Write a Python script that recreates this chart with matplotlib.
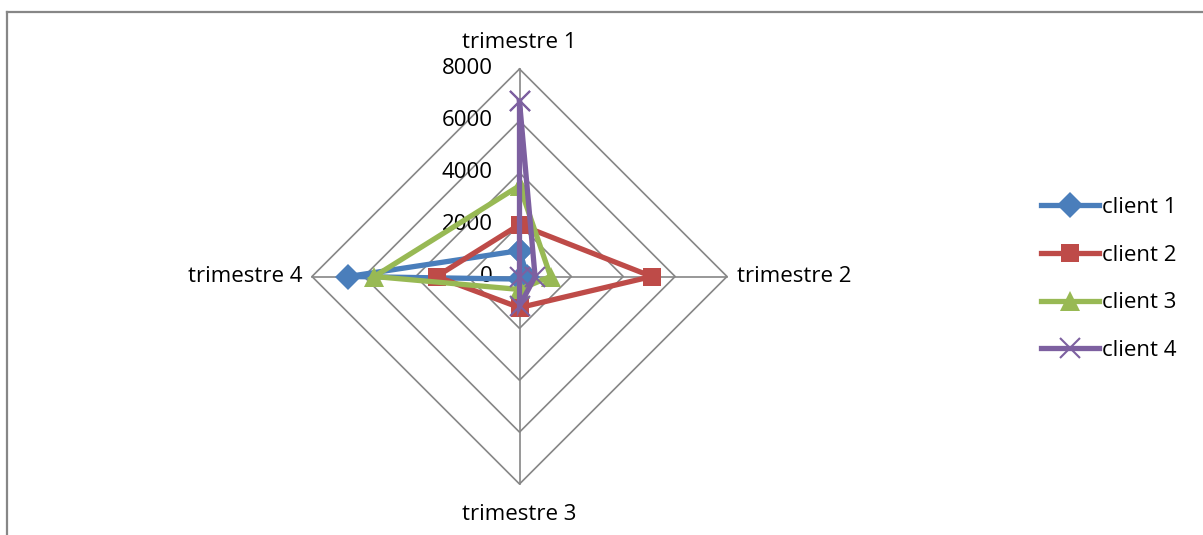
import numpy as np
import matplotlib.pyplot as plt
from matplotlib.lines import Line2D

plt.rcParams['font.family'] = ['Open Sans', 'DejaVu Sans']

# sales per quarter for each client
trimestres = ['trimestre 1', 'trimestre 2', 'trimestre 3', 'trimestre 4']
client_1 = [1000, 300, 100, 6600]
client_2 = [2000, 5100, 1200, 3200]
client_3 = [3500, 1200, 500, 5600]
client_4 = [6750, 600, 1150, 0]
rings = [0, 2000, 4000, 6000, 8000]

series = [
    ('client 1', client_1, '#4A7EBB', 'D', 13),
    ('client 2', client_2, '#BE4B48', 's', 13.5),
    ('client 3', client_3, '#98B954', '^', 15),
    ('client 4', client_4, '#7D60A0', 'x', 14),
]

W, H = 1203, 535
fig = plt.figure(figsize=(W / 100, H / 100), dpi=100)
ax = fig.add_axes([0, 0, 1, 1])
ax.axis('off')

# center of the radar in pixels and radius of the outer ring
cx, cy, rad = 519.5, 535 - 276.5, 207.5
rmax = rings[-1]
k = rmax / rad
ax.set_xlim(-cx * k, (W - cx) * k)
ax.set_ylim(-cy * k, (H - cy) * k)

# angles clockwise from the top
ang = np.arange(len(trimestres)) * 2 * np.pi / len(trimestres)


def to_xy(vals):
    v = np.asarray(vals, dtype=float)
    return v * np.sin(ang), v * np.cos(ang)


fs = 16
grid_c = '#868686'
for r in rings[1:]:
    gx, gy = to_xy([r] * len(trimestres))
    ax.plot(np.append(gx, gx[0]), np.append(gy, gy[0]), color=grid_c, lw=1.2, zorder=1)
for a in ang:
    ax.plot([0, rmax * np.sin(a)], [0, rmax * np.cos(a)], color=grid_c, lw=1.2, zorder=1)

# value labels along the first spoke
for r in rings:
    ax.text(-27 * k, r, str(r), ha='right', va='center', fontsize=fs, color='black')

# category labels
ax.text(0, rmax + 26 * k, trimestres[0], ha='center', va='center', fontsize=fs)
ax.text(rmax + 10 * k, 0, trimestres[1], ha='left', va='center', fontsize=fs)
ax.text(0, -rmax - 30 * k, trimestres[2], ha='center', va='center', fontsize=fs)
ax.text(-rmax - 10 * k, 0, trimestres[3], ha='right', va='center', fontsize=fs)

handles = []
for i, (name, vals, col, mk, ms) in enumerate(series):
    x, y = to_xy(vals)
    mew = 1.5 if mk == 'x' else 0
    ax.plot(np.append(x, x[0]), np.append(y, y[0]), color=col, lw=3.8,
            marker=mk, ms=ms, mew=mew, mec=col, mfc=col, zorder=3 + i,
            solid_joinstyle='miter')
    handles.append(Line2D([], [], color=col, lw=3.8, marker=mk, ms=ms,
                          mew=mew, mec=col, mfc=col, label=name))

fig.legend(handles=handles, loc='center left', bbox_to_anchor=(1032 / W, 1 - 279 / H),
           frameon=False, fontsize=fs, handlelength=2.6, handletextpad=0.15,
           labelspacing=1.2, borderaxespad=0)

# chart area border
fig.add_artist(plt.Line2D([7 / W, 7 / W], [0, 1 - 12 / H], transform=fig.transFigure,
                          color='#878787', lw=1.6))
fig.add_artist(plt.Line2D([7 / W, 1], [1 - 12 / H, 1 - 12 / H], transform=fig.transFigure,
                          color='#878787', lw=1.6))

fig.savefig('out.png', dpi=100)
